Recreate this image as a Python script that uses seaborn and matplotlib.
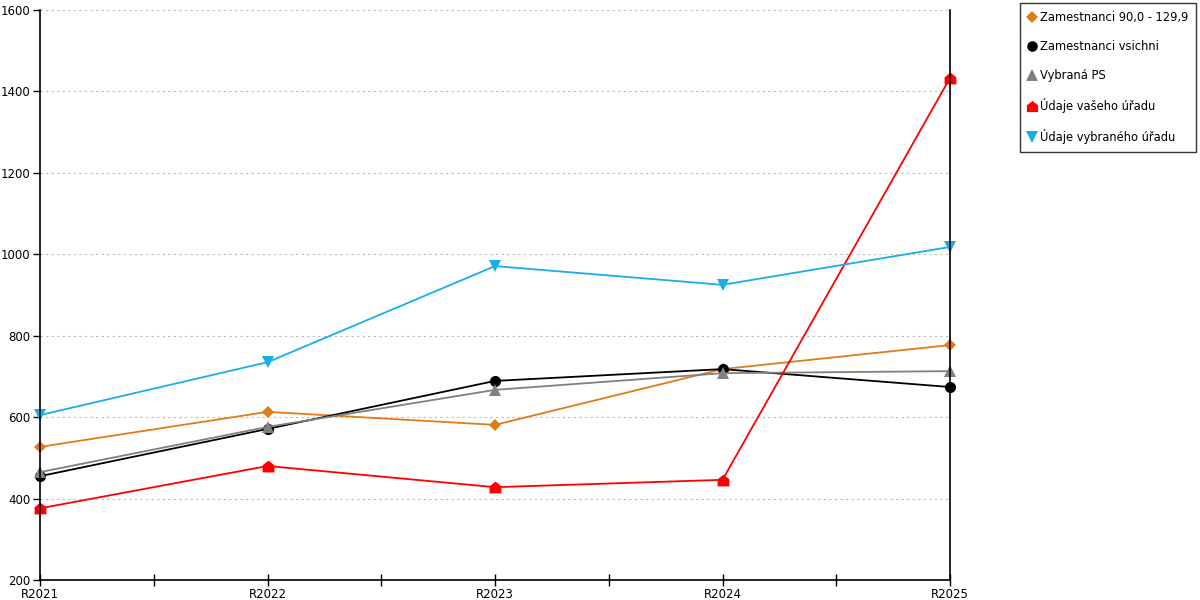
import numpy as np
import pandas as pd
import seaborn as sns
import matplotlib.pyplot as plt
from matplotlib.path import Path
from matplotlib.lines import Line2D

# Data
years = ['R2021', 'R2022', 'R2023', 'R2024', 'R2025']
zam_90 = [527, 613, 581, 718, 777]
zam_all = [455, 571, 689, 718, 674]
vybrana_ps = [465, 576, 667, 708, 713]
vas_urad = [376, 480, 428, 446, 1433]
vybrany_urad = [605, 735, 971, 925, 1018]

series_names = ['Zamestnanci 90,0 - 129,9', 'Zamestnanci vsichni', 'Vybraná PS',
                'Údaje vašeho úřadu', 'Údaje vybraného úřadu']
series_values = [zam_90, zam_all, vybrana_ps, vas_urad, vybrany_urad]

# house shaped marker for the red series
house = Path([(-1, -1), (1, -1), (1, 0.2), (0, 1), (-1, 0.2), (-1, -1)],
             [Path.MOVETO, Path.LINETO, Path.LINETO, Path.LINETO, Path.LINETO, Path.CLOSEPOLY])

styles = {
    'Zamestnanci 90,0 - 129,9': dict(color='#e07b1a', marker='D', ms=6.3),
    'Zamestnanci vsichni': dict(color='#000000', marker='o', ms=8),
    'Vybraná PS': dict(color='#808080', marker='^', ms=8.5),
    'Údaje vašeho úřadu': dict(color='#ff0000', marker=house, ms=8.5),
    'Údaje vybraného úřadu': dict(color='#1aaee8', marker='v', ms=8.5),
}

df = pd.DataFrame({
    'x': np.tile(np.arange(len(years)), len(series_names)),
    'value': np.concatenate(series_values),
    'series': np.repeat(series_names, len(years)),
})

sns.set_style('white')
plt.rcParams['font.family'] = ['DejaVu Sans']
plt.rcParams['text.color'] = 'black'
plt.rcParams['xtick.color'] = 'black'
plt.rcParams['ytick.color'] = 'black'

fig = plt.figure(figsize=(12, 6), dpi=100)
ax = fig.add_axes([40 / 1200, 20 / 600, 910 / 1200, 570 / 600])

for name in series_names:
    st = styles[name]
    sub = df[df['series'] == name]
    sns.lineplot(data=sub, x='x', y='value', ax=ax, color=st['color'], linewidth=1.3,
                 marker=st['marker'], markersize=st['ms'], markeredgewidth=0,
                 markerfacecolor=st['color'], legend=False, clip_on=False)

ax.set_xlim(0, len(years) - 1)
ax.set_ylim(200, 1600)
ax.set_yticks(np.arange(200, 1601, 200))
ax.set_xticks(np.arange(len(years)))
ax.set_xticklabels(years)
ax.set_xticks(np.arange(0.5, len(years) - 1, 1), minor=True)
ax.set_xlabel('')
ax.set_ylabel('')

ax.grid(axis='y', color='#bbbbbb', linestyle=(0, (2, 3)), linewidth=0.8)
ax.set_axisbelow(True)
for s in ['left', 'bottom', 'right']:
    ax.spines[s].set_color('black')
    ax.spines[s].set_linewidth(1.2)
ax.spines['top'].set_visible(False)

ax.tick_params(axis='x', which='both', direction='inout', length=8, width=1,
               labelsize=8.5, pad=2, bottom=True, labelcolor='black')
ax.tick_params(axis='y', direction='out', length=5, width=1, labelsize=8.5, pad=2,
               left=True, labelcolor='black')

handles = [Line2D([], [], linestyle='none', marker=styles[n]['marker'],
                  color=styles[n]['color'], markersize=styles[n]['ms'] * 0.95,
                  markeredgewidth=0) for n in series_names]
leg = fig.legend(handles, series_names, loc='upper left', bbox_to_anchor=(1020 / 1200, 1 - 3 / 600),
                 fontsize=8.3, frameon=True, fancybox=False, labelspacing=1.39,
                 handlelength=0.6, handletextpad=0.45, borderpad=0.7, borderaxespad=0,
                 labelcolor='black')
leg.get_frame().set_edgecolor('black')
leg.get_frame().set_linewidth(1)

fig.savefig('out.png', dpi=100)
